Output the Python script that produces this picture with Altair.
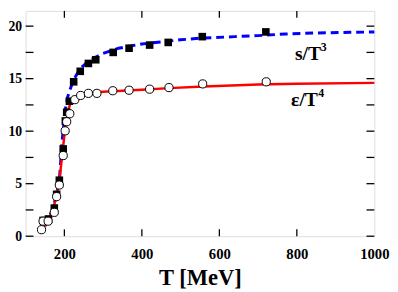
import altair as alt
import pandas as pd

# Lattice data points
s_T = [145, 159, 174, 180, 187, 197, 202.5, 206, 213, 224, 241, 262, 281, 326, 367, 420, 468, 556, 720]
s_v = [1.5, 1.64, 2.68, 3.99, 5.33, 8.31, 10.97, 11.8, 12.85, 14.7, 15.7, 16.45, 16.8, 17.5, 17.9, 18.2, 18.45, 19.0, 19.45]

e_T = [141, 145, 158, 174, 180, 187, 197, 202, 206, 214, 227, 242, 262, 284, 325, 367, 420, 470, 557, 721]
e_v = [0.62, 1.43, 1.43, 2.27, 3.77, 4.87, 7.68, 10.03, 10.9, 11.66, 13.0, 13.4, 13.6, 13.6, 13.85, 13.9, 14.0, 14.15, 14.5, 14.7]

# Model curves
blue_T = [150, 160, 170, 180, 188, 193, 197, 202, 208, 214, 224, 235, 245, 260, 275, 300, 340, 400, 450, 500, 550, 640, 700, 770, 850, 1000]
blue_v = [0.95, 1.75, 2.6, 4.0, 5.8, 8.5, 10.2, 12.0, 13.2, 13.9, 14.9, 15.6, 16.1, 16.6, 16.95, 17.4, 17.9, 18.3, 18.5, 18.7, 18.85, 19.0, 19.1, 19.25, 19.35, 19.45]

red_T = [148, 160, 170, 180, 188, 195, 200, 205, 210, 216, 225, 240, 270, 300, 350, 400, 470, 560, 700, 800, 1000]
red_v = [0.9, 1.7, 2.5, 3.8, 5.6, 7.9, 9.6, 11.0, 12.0, 12.7, 13.15, 13.45, 13.65, 13.75, 13.85, 13.95, 14.1, 14.25, 14.45, 14.52, 14.6]

x_ticks = [200, 400, 600, 800]
x_labels = [200, 400, 600, 800, 1000]
y_ticks = [0, 2.5, 5, 7.5, 10, 12.5, 15, 17.5, 20]
y_labels = [0, 5, 10, 15, 20]

FONT = "Liberation Serif"
W, H = 356, 230

xs = alt.Scale(domain=[100, 1000], nice=False, zero=False)
ys = alt.Scale(domain=[0, 21.45], nice=False, zero=False)

xax = alt.Axis(values=x_labels, format="d", ticks=False, domain=False, grid=False, labelFlush=False,
               labelFont=FONT, labelFontSize=15, labelFontWeight="bold", labelColor="black",
               labelPadding=11, title="T [MeV]", titleFont=FONT, titleFontSize=23,
               titleFontWeight="bold", titleColor="black", titlePadding=5)
yax = alt.Axis(values=y_labels, format="d", ticks=False, domain=False, grid=False, labelFlush=False,
               labelFont=FONT, labelFontSize=14, labelFontWeight="bold", labelColor="black",
               labelPadding=4, title=None)

blue = alt.Chart(pd.DataFrame({"T": blue_T, "v": blue_v})).mark_line(
    color="#0000ff", strokeWidth=3, strokeDash=[8, 5]).encode(
    x=alt.X("T:Q", scale=xs, axis=xax), y=alt.Y("v:Q", scale=ys, axis=yax))
red = alt.Chart(pd.DataFrame({"T": red_T, "v": red_v})).mark_line(
    color="#ff0000", strokeWidth=2.5).encode(
    x=alt.X("T:Q", scale=xs), y=alt.Y("v:Q", scale=ys))
sq = alt.Chart(pd.DataFrame({"T": s_T, "v": s_v})).mark_point(
    shape="square", filled=True, color="black", size=60, opacity=1).encode(
    x=alt.X("T:Q", scale=xs), y=alt.Y("v:Q", scale=ys))
ci = alt.Chart(pd.DataFrame({"T": e_T, "v": e_v})).mark_point(
    shape="circle", filled=True, fill="white", stroke="black", strokeWidth=1, size=70, opacity=1).encode(
    x=alt.X("T:Q", scale=xs), y=alt.Y("v:Q", scale=ys))

yt = pd.DataFrame({"v": y_ticks})
xt = pd.DataFrame({"T": x_ticks})
tl = alt.Chart(yt).mark_rule(color="black", strokeWidth=1.3).encode(
    y=alt.Y("v:Q", scale=ys), x=alt.value(0), x2=alt.value(8))
tr = alt.Chart(yt).mark_rule(color="black", strokeWidth=1.3).encode(
    y=alt.Y("v:Q", scale=ys), x=alt.value(W - 8), x2=alt.value(W))
tb = alt.Chart(xt).mark_rule(color="black", strokeWidth=1.3).encode(
    x=alt.X("T:Q", scale=xs), y=alt.value(H - 7), y2=alt.value(H))
tt = alt.Chart(xt).mark_rule(color="black", strokeWidth=1.3).encode(
    x=alt.X("T:Q", scale=xs), y=alt.value(0), y2=alt.value(7))

def label(txt, T, v, size):
    return alt.Chart(pd.DataFrame({"T": [T], "v": [v], "t": [txt]})).mark_text(
        font=FONT, fontWeight="bold", fontSize=size, color="black", align="left",
        baseline="alphabetic").encode(
        x=alt.X("T:Q", scale=xs), y=alt.Y("v:Q", scale=ys), text="t:N")

labels = [
    label("s/T", 795, 16.8, 20), label("3", 862, 17.6, 12),
    label("ε/T", 785, 12.4, 20), label("4", 855, 13.25, 12),
]

chart = alt.layer(blue, red, sq, ci, tl, tr, tb, tt, *labels).properties(
    width=W, height=H, autosize=alt.AutoSizeParams(type="none"),
    padding={"left": 18, "top": 0, "right": 16, "bottom": 54},
).configure_view(stroke="black", strokeWidth=1.5).configure(background="white")

chart.save("out.html", embed_options={"renderer": "svg", "actions": False})
